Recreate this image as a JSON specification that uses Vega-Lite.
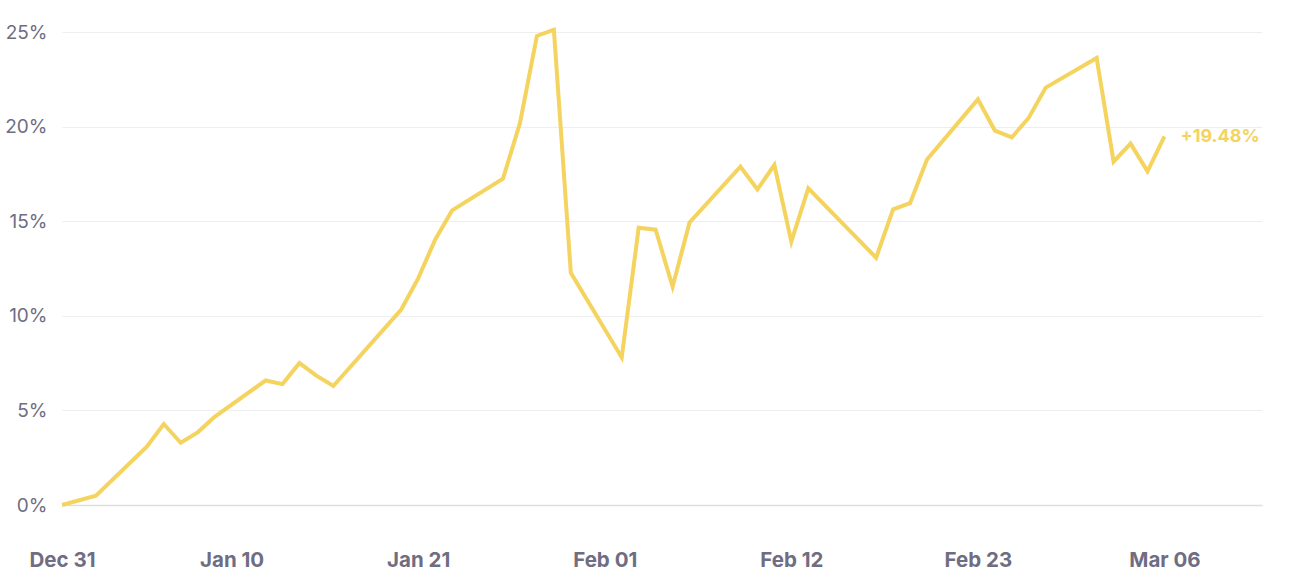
{
  "$schema": "https://vega.github.io/schema/vega-lite/v6.json",
  "width": 1200,
  "height": 473,
  "autosize": {"type": "none"},
  "padding": {"left": 62, "top": 32, "right": 49, "bottom": 77},
  "background": "#ffffff",
  "config": {
    "view": {"stroke": null},
    "font": "Inter",
    "axis": {"labelFont": "Inter"}
  },
  "data": {
    "values": [
      {"date": "2025-12-31", "value": 0},
      {"date": "2026-01-02", "value": 0.49},
      {"date": "2026-01-05", "value": 3.08},
      {"date": "2026-01-06", "value": 4.28},
      {"date": "2026-01-07", "value": 3.29},
      {"date": "2026-01-08", "value": 3.84},
      {"date": "2026-01-09", "value": 4.66},
      {"date": "2026-01-12", "value": 6.58},
      {"date": "2026-01-13", "value": 6.39},
      {"date": "2026-01-14", "value": 7.5},
      {"date": "2026-01-15", "value": 6.84},
      {"date": "2026-01-16", "value": 6.29},
      {"date": "2026-01-20", "value": 10.33},
      {"date": "2026-01-21", "value": 11.98},
      {"date": "2026-01-22", "value": 14.02},
      {"date": "2026-01-23", "value": 15.57},
      {"date": "2026-01-26", "value": 17.25},
      {"date": "2026-01-27", "value": 20.18},
      {"date": "2026-01-28", "value": 24.79},
      {"date": "2026-01-29", "value": 25.12},
      {"date": "2026-01-30", "value": 12.27},
      {"date": "2026-02-02", "value": 7.8},
      {"date": "2026-02-03", "value": 14.65},
      {"date": "2026-02-04", "value": 14.55},
      {"date": "2026-02-05", "value": 11.54},
      {"date": "2026-02-06", "value": 14.93},
      {"date": "2026-02-09", "value": 17.88},
      {"date": "2026-02-10", "value": 16.68},
      {"date": "2026-02-11", "value": 17.97},
      {"date": "2026-02-12", "value": 13.92},
      {"date": "2026-02-13", "value": 16.74},
      {"date": "2026-02-17", "value": 13.07},
      {"date": "2026-02-18", "value": 15.63},
      {"date": "2026-02-19", "value": 15.95},
      {"date": "2026-02-20", "value": 18.26},
      {"date": "2026-02-23", "value": 21.44},
      {"date": "2026-02-24", "value": 19.79},
      {"date": "2026-02-25", "value": 19.43},
      {"date": "2026-02-26", "value": 20.47},
      {"date": "2026-02-27", "value": 22.06},
      {"date": "2026-03-02", "value": 23.63},
      {"date": "2026-03-03", "value": 18.15},
      {"date": "2026-03-04", "value": 19.1},
      {"date": "2026-03-05", "value": 17.64},
      {"date": "2026-03-06", "value": 19.48}
    ]
  },
  "encoding": {
    "x": {
      "field": "date",
      "type": "temporal",
      "scale": {
        "type": "utc",
        "domain": [
          {"year": 2025, "month": 12, "date": 31, "utc": true},
          {"year": 2026, "month": 3, "date": 11, "hours": 18, "utc": true}
        ]
      },
      "axis": {
        "title": null,
        "grid": false,
        "ticks": false,
        "domain": true,
        "domainColor": "#dedede",
        "domainWidth": 1.5,
        "values": [
          {"year": 2025, "month": 12, "date": 31, "utc": true},
          {"year": 2026, "month": 1, "date": 10, "utc": true},
          {"year": 2026, "month": 1, "date": 21, "utc": true},
          {"year": 2026, "month": 2, "date": 1, "utc": true},
          {"year": 2026, "month": 2, "date": 12, "utc": true},
          {"year": 2026, "month": 2, "date": 23, "utc": true},
          {"year": 2026, "month": 3, "date": 6, "utc": true}
        ],
        "format": "%b %d",
        "labelFontSize": 20.5,
        "labelFontWeight": 700,
        "labelColor": "#6f6d82",
        "labelPadding": 45,
        "labelFlush": false,
        "labelOverlap": false
      }
    },
    "y": {
      "field": "value",
      "type": "quantitative",
      "scale": {"domain": [0, 25], "nice": false, "zero": true},
      "axis": {
        "title": null,
        "values": [0, 5, 10, 15, 20, 25],
        "labelExpr": "datum.value + '%'",
        "grid": true,
        "gridColor": "#eeeeee",
        "gridWidth": 1,
        "ticks": false,
        "domain": false,
        "labelFontSize": 19,
        "labelFontWeight": 400,
        "labelColor": "#6f6d82",
        "labelPadding": 15
      }
    }
  },
  "layer": [
    {
      "mark": {
        "type": "line",
        "color": "#f4d35e",
        "strokeWidth": 4,
        "strokeJoin": "miter",
        "clip": false
      }
    },
    {
      "transform": [{"filter": "time(datum.date) === utc(2026, 2, 6)"}],
      "mark": {
        "type": "text",
        "text": "+19.48%",
        "align": "left",
        "baseline": "middle",
        "dx": 16,
        "dy": 1,
        "fontSize": 18,
        "fontWeight": 700,
        "color": "#f4d35e",
        "clip": false
      }
    }
  ]
}
